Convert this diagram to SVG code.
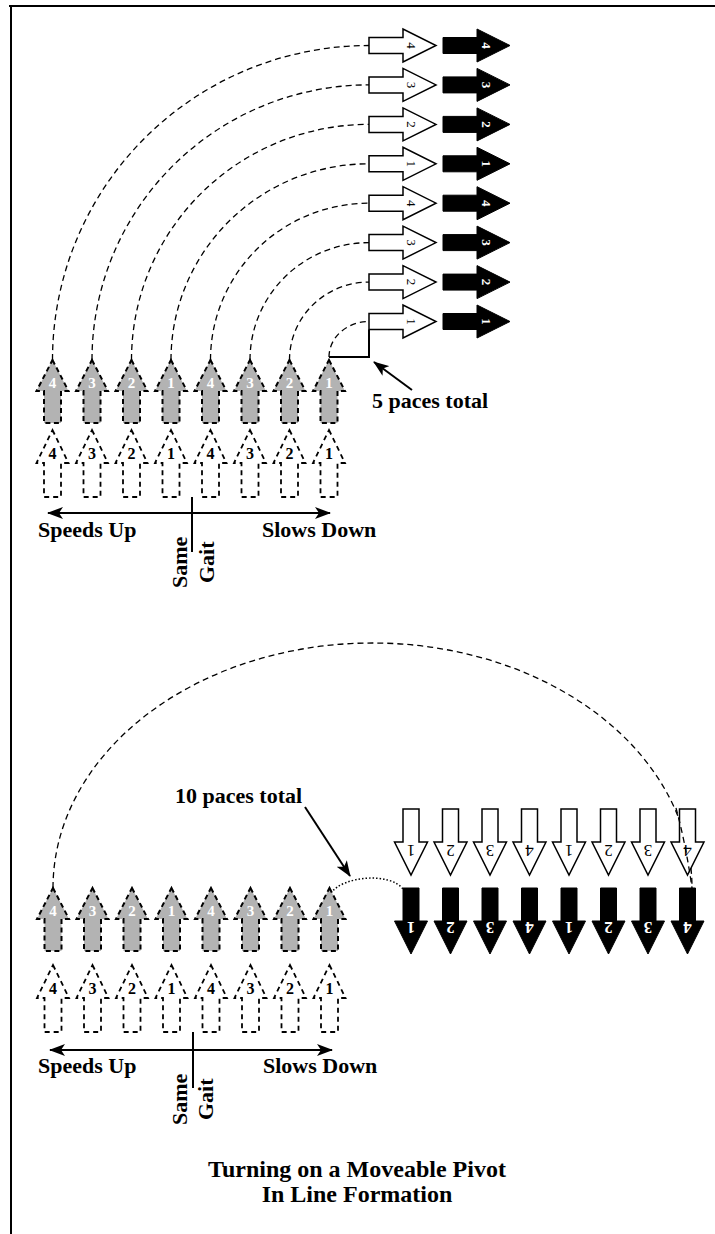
<svg xmlns="http://www.w3.org/2000/svg" xmlns:xlink="http://www.w3.org/1999/xlink" width="715" height="1234" viewBox="0 0 715 1234">
<style>
text{font-family:"Liberation Serif","Times New Roman",serif;text-anchor:middle}
.lbl{font-size:22px;font-weight:bold;text-anchor:start}
.title{font-size:24px;font-weight:bold}
.w{fill:#fff;stroke:#000;stroke-width:1.5}
.b{fill:#000;stroke:#000;stroke-width:1}
.g{fill:#b3b3b3;stroke:#000;stroke-width:2;stroke-dasharray:5 3.5}
.d{fill:#fff;stroke:#000;stroke-width:1.8;stroke-dasharray:5 4}
.dw{font-size:13px;fill:#000}
.db{font-size:13px;fill:#fff;font-weight:bold}
.dg{font-size:15px;fill:#fff;font-weight:bold}
.dd{font-size:16px;fill:#000;font-weight:bold}
.dnw{font-size:17px;fill:#000}
.dnb{font-size:17px;fill:#fff;font-weight:bold}
.arc{fill:none;stroke:#000;stroke-width:1.3;stroke-dasharray:6 4}
.dot{fill:none;stroke:#000;stroke-width:1.5;stroke-dasharray:1.5 2}
.ln{fill:none;stroke:#000;stroke-width:2}
</style>
<defs>
<path id="ra" d="M0,-8 H34 V-16.5 L67,0 L34,16.5 V8 H0 Z"/>
<path id="ug" d="M0,0 L16,31 H8.5 V63 H-8.5 V31 H-16 Z"/>
<path id="ud" d="M0,0 L16,33 H8.5 V67 H-8.5 V33 H-16 Z"/>
<path id="dn" d="M-8,0 H8 V33 H16.5 L0,66 L-16.5,33 H-8 Z"/>
<marker id="ah" viewBox="0 0 16 12" refX="15" refY="6" markerWidth="16" markerHeight="12" markerUnits="userSpaceOnUse" orient="auto-start-reverse">
<path d="M0,0 L16,6 L0,12 L4,6 Z" fill="#000"/>
</marker>
</defs>

<g id="frame">
<line x1="9" y1="6" x2="715" y2="6" stroke="#000" stroke-width="2"/>
<line x1="11" y1="6" x2="11" y2="1234" stroke="#000" stroke-width="2"/>
</g>

<g id="connectors">
<path class="arc" d="M52.5,360 A316.5,314.5 0 0 1 369,45.5"/>
<path class="arc" d="M92,360 A277,275.1 0 0 1 369,84.9"/>
<path class="arc" d="M131.5,360 A237.5,235.6 0 0 1 369,124.4"/>
<path class="arc" d="M171,360 A198,196.2 0 0 1 369,163.8"/>
<path class="arc" d="M210.5,360 A158.5,156.8 0 0 1 369,203.2"/>
<path class="arc" d="M250,360 A119,117.4 0 0 1 369,242.6"/>
<path class="arc" d="M289.5,360 A79.5,77.9 0 0 1 369,282.1"/>
<path class="arc" d="M329,357 A40,35.5 0 0 1 369,321.5"/>
<path class="ln" d="M329,357 H369 V329.5" stroke-width="1.8"/>
<path class="ln" d="M412,390 L374,362" marker-end="url(#ah)"/>
<path class="ln" d="M48,513 H330" marker-start="url(#ah)" marker-end="url(#ah)"/>
<line x1="192" y1="497" x2="192" y2="552" stroke="#000" stroke-width="2"/>
<path class="dot" d="M331,893 C343,876 390,872 403,889"/>
<path class="ln" d="M305,807 L350,876" marker-end="url(#ah)"/>
<path class="ln" d="M50,1050 H332" marker-start="url(#ah)" marker-end="url(#ah)"/>
<line x1="193" y1="1032" x2="193" y2="1088" stroke="#000" stroke-width="2"/>
</g>

<g id="top-white-arrows">
<g id="tw1"><use xlink:href="#ra" x="369" y="45.5" class="w"/><text class="dw" transform="translate(411,45.5) rotate(90)" y="4.5">4</text></g>
<g id="tw2"><use xlink:href="#ra" x="369" y="84.9" class="w"/><text class="dw" transform="translate(411,84.9) rotate(90)" y="4.5">3</text></g>
<g id="tw3"><use xlink:href="#ra" x="369" y="124.4" class="w"/><text class="dw" transform="translate(411,124.4) rotate(90)" y="4.5">2</text></g>
<g id="tw4"><use xlink:href="#ra" x="369" y="163.8" class="w"/><text class="dw" transform="translate(411,163.8) rotate(90)" y="4.5">1</text></g>
<g id="tw5"><use xlink:href="#ra" x="369" y="203.2" class="w"/><text class="dw" transform="translate(411,203.2) rotate(90)" y="4.5">4</text></g>
<g id="tw6"><use xlink:href="#ra" x="369" y="242.6" class="w"/><text class="dw" transform="translate(411,242.6) rotate(90)" y="4.5">3</text></g>
<g id="tw7"><use xlink:href="#ra" x="369" y="282.1" class="w"/><text class="dw" transform="translate(411,282.1) rotate(90)" y="4.5">2</text></g>
<g id="tw8"><use xlink:href="#ra" x="369" y="321.5" class="w"/><text class="dw" transform="translate(411,321.5) rotate(90)" y="4.5">1</text></g>
</g>

<g id="top-black-arrows">
<g id="tb1"><use xlink:href="#ra" x="443" y="45.5" class="b"/><text class="db" transform="translate(486,45.5) rotate(90)" y="4.5">4</text></g>
<g id="tb2"><use xlink:href="#ra" x="443" y="84.9" class="b"/><text class="db" transform="translate(486,84.9) rotate(90)" y="4.5">3</text></g>
<g id="tb3"><use xlink:href="#ra" x="443" y="124.4" class="b"/><text class="db" transform="translate(486,124.4) rotate(90)" y="4.5">2</text></g>
<g id="tb4"><use xlink:href="#ra" x="443" y="163.8" class="b"/><text class="db" transform="translate(486,163.8) rotate(90)" y="4.5">1</text></g>
<g id="tb5"><use xlink:href="#ra" x="443" y="203.2" class="b"/><text class="db" transform="translate(486,203.2) rotate(90)" y="4.5">4</text></g>
<g id="tb6"><use xlink:href="#ra" x="443" y="242.6" class="b"/><text class="db" transform="translate(486,242.6) rotate(90)" y="4.5">3</text></g>
<g id="tb7"><use xlink:href="#ra" x="443" y="282.1" class="b"/><text class="db" transform="translate(486,282.1) rotate(90)" y="4.5">2</text></g>
<g id="tb8"><use xlink:href="#ra" x="443" y="321.5" class="b"/><text class="db" transform="translate(486,321.5) rotate(90)" y="4.5">1</text></g>
</g>

<g id="top-gray-arrows">
<g id="tg1"><use xlink:href="#ug" x="52.5" y="360" class="g"/><text class="dg" x="52.5" y="388">4</text></g>
<g id="tg2"><use xlink:href="#ug" x="92" y="360" class="g"/><text class="dg" x="92" y="388">3</text></g>
<g id="tg3"><use xlink:href="#ug" x="131.5" y="360" class="g"/><text class="dg" x="131.5" y="388">2</text></g>
<g id="tg4"><use xlink:href="#ug" x="171" y="360" class="g"/><text class="dg" x="171" y="388">1</text></g>
<g id="tg5"><use xlink:href="#ug" x="210.5" y="360" class="g"/><text class="dg" x="210.5" y="388">4</text></g>
<g id="tg6"><use xlink:href="#ug" x="250" y="360" class="g"/><text class="dg" x="250" y="388">3</text></g>
<g id="tg7"><use xlink:href="#ug" x="289.5" y="360" class="g"/><text class="dg" x="289.5" y="388">2</text></g>
<g id="tg8"><use xlink:href="#ug" x="329" y="360" class="g"/><text class="dg" x="329" y="388">1</text></g>
</g>

<g id="top-dashed-arrows">
<g id="td1"><use xlink:href="#ud" x="52.5" y="430" class="d"/><text class="dd" x="52.5" y="459">4</text></g>
<g id="td2"><use xlink:href="#ud" x="92" y="430" class="d"/><text class="dd" x="92" y="459">3</text></g>
<g id="td3"><use xlink:href="#ud" x="131.5" y="430" class="d"/><text class="dd" x="131.5" y="459">2</text></g>
<g id="td4"><use xlink:href="#ud" x="171" y="430" class="d"/><text class="dd" x="171" y="459">1</text></g>
<g id="td5"><use xlink:href="#ud" x="210.5" y="430" class="d"/><text class="dd" x="210.5" y="459">4</text></g>
<g id="td6"><use xlink:href="#ud" x="250" y="430" class="d"/><text class="dd" x="250" y="459">3</text></g>
<g id="td7"><use xlink:href="#ud" x="289.5" y="430" class="d"/><text class="dd" x="289.5" y="459">2</text></g>
<g id="td8"><use xlink:href="#ud" x="329" y="430" class="d"/><text class="dd" x="329" y="459">1</text></g>
</g>

<g id="top-labels">
<text class="lbl" x="372" y="408">5 paces total</text>
<text class="lbl" x="38" y="537">Speeds Up</text>
<text class="lbl" x="262" y="537">Slows Down</text>
<text class="lbl" transform="translate(187,588) rotate(-90)">Same</text>
<text class="lbl" transform="translate(214,583) rotate(-90)">Gait</text>
</g>

<g id="bottom-arc">
<path class="arc" d="M53,888 A319.5,245 0 0 1 692,888"/>
</g>

<g id="bottom-white-arrows">
<g id="bw1"><use xlink:href="#dn" x="411" y="809" class="w"/><text class="dnw" transform="translate(411,851) rotate(180)" y="6">1</text></g>
<g id="bw2"><use xlink:href="#dn" x="450.5" y="809" class="w"/><text class="dnw" transform="translate(450.5,851) rotate(180)" y="6">2</text></g>
<g id="bw3"><use xlink:href="#dn" x="490" y="809" class="w"/><text class="dnw" transform="translate(490,851) rotate(180)" y="6">3</text></g>
<g id="bw4"><use xlink:href="#dn" x="529.5" y="809" class="w"/><text class="dnw" transform="translate(529.5,851) rotate(180)" y="6">4</text></g>
<g id="bw5"><use xlink:href="#dn" x="569" y="809" class="w"/><text class="dnw" transform="translate(569,851) rotate(180)" y="6">1</text></g>
<g id="bw6"><use xlink:href="#dn" x="608.5" y="809" class="w"/><text class="dnw" transform="translate(608.5,851) rotate(180)" y="6">2</text></g>
<g id="bw7"><use xlink:href="#dn" x="648" y="809" class="w"/><text class="dnw" transform="translate(648,851) rotate(180)" y="6">3</text></g>
<g id="bw8"><use xlink:href="#dn" x="687.5" y="809" class="w"/><text class="dnw" transform="translate(687.5,851) rotate(180)" y="6">4</text></g>
</g>

<g id="bottom-arc-over">
<path class="arc" d="M676,808 Q686,845 692,888"/>
</g>

<g id="bottom-black-arrows">
<g id="bb1"><use xlink:href="#dn" x="411" y="888" class="b"/><text class="dnb" transform="translate(411,928) rotate(180)" y="6">1</text></g>
<g id="bb2"><use xlink:href="#dn" x="450.5" y="888" class="b"/><text class="dnb" transform="translate(450.5,928) rotate(180)" y="6">2</text></g>
<g id="bb3"><use xlink:href="#dn" x="490" y="888" class="b"/><text class="dnb" transform="translate(490,928) rotate(180)" y="6">3</text></g>
<g id="bb4"><use xlink:href="#dn" x="529.5" y="888" class="b"/><text class="dnb" transform="translate(529.5,928) rotate(180)" y="6">4</text></g>
<g id="bb5"><use xlink:href="#dn" x="569" y="888" class="b"/><text class="dnb" transform="translate(569,928) rotate(180)" y="6">1</text></g>
<g id="bb6"><use xlink:href="#dn" x="608.5" y="888" class="b"/><text class="dnb" transform="translate(608.5,928) rotate(180)" y="6">2</text></g>
<g id="bb7"><use xlink:href="#dn" x="648" y="888" class="b"/><text class="dnb" transform="translate(648,928) rotate(180)" y="6">3</text></g>
<g id="bb8"><use xlink:href="#dn" x="687.5" y="888" class="b"/><text class="dnb" transform="translate(687.5,928) rotate(180)" y="6">4</text></g>
</g>

<g id="bottom-gray-arrows">
<g id="bg1"><use xlink:href="#ug" x="53" y="888" class="g"/><text class="dg" x="53" y="916">4</text></g>
<g id="bg2"><use xlink:href="#ug" x="92.5" y="888" class="g"/><text class="dg" x="92.5" y="916">3</text></g>
<g id="bg3"><use xlink:href="#ug" x="132" y="888" class="g"/><text class="dg" x="132" y="916">2</text></g>
<g id="bg4"><use xlink:href="#ug" x="171.5" y="888" class="g"/><text class="dg" x="171.5" y="916">1</text></g>
<g id="bg5"><use xlink:href="#ug" x="211" y="888" class="g"/><text class="dg" x="211" y="916">4</text></g>
<g id="bg6"><use xlink:href="#ug" x="250.5" y="888" class="g"/><text class="dg" x="250.5" y="916">3</text></g>
<g id="bg7"><use xlink:href="#ug" x="290" y="888" class="g"/><text class="dg" x="290" y="916">2</text></g>
<g id="bg8"><use xlink:href="#ug" x="329.5" y="888" class="g"/><text class="dg" x="329.5" y="916">1</text></g>
</g>

<g id="bottom-dashed-arrows">
<g id="bd1"><use xlink:href="#ud" x="53" y="965" class="d"/><text class="dd" x="53" y="994">4</text></g>
<g id="bd2"><use xlink:href="#ud" x="92.5" y="965" class="d"/><text class="dd" x="92.5" y="994">3</text></g>
<g id="bd3"><use xlink:href="#ud" x="132" y="965" class="d"/><text class="dd" x="132" y="994">2</text></g>
<g id="bd4"><use xlink:href="#ud" x="171.5" y="965" class="d"/><text class="dd" x="171.5" y="994">1</text></g>
<g id="bd5"><use xlink:href="#ud" x="211" y="965" class="d"/><text class="dd" x="211" y="994">4</text></g>
<g id="bd6"><use xlink:href="#ud" x="250.5" y="965" class="d"/><text class="dd" x="250.5" y="994">3</text></g>
<g id="bd7"><use xlink:href="#ud" x="290" y="965" class="d"/><text class="dd" x="290" y="994">2</text></g>
<g id="bd8"><use xlink:href="#ud" x="329.5" y="965" class="d"/><text class="dd" x="329.5" y="994">1</text></g>
</g>

<g id="bottom-labels">
<text class="lbl" x="175" y="803">10 paces total</text>
<text class="lbl" x="38" y="1073">Speeds Up</text>
<text class="lbl" x="263" y="1073">Slows Down</text>
<text class="lbl" transform="translate(187,1125) rotate(-90)">Same</text>
<text class="lbl" transform="translate(213,1120) rotate(-90)">Gait</text>
</g>

<g id="title">
<text class="title" x="357" y="1177">Turning on a Moveable Pivot</text>
<text class="title" x="357" y="1202">In Line Formation</text>
</g>
</svg>
